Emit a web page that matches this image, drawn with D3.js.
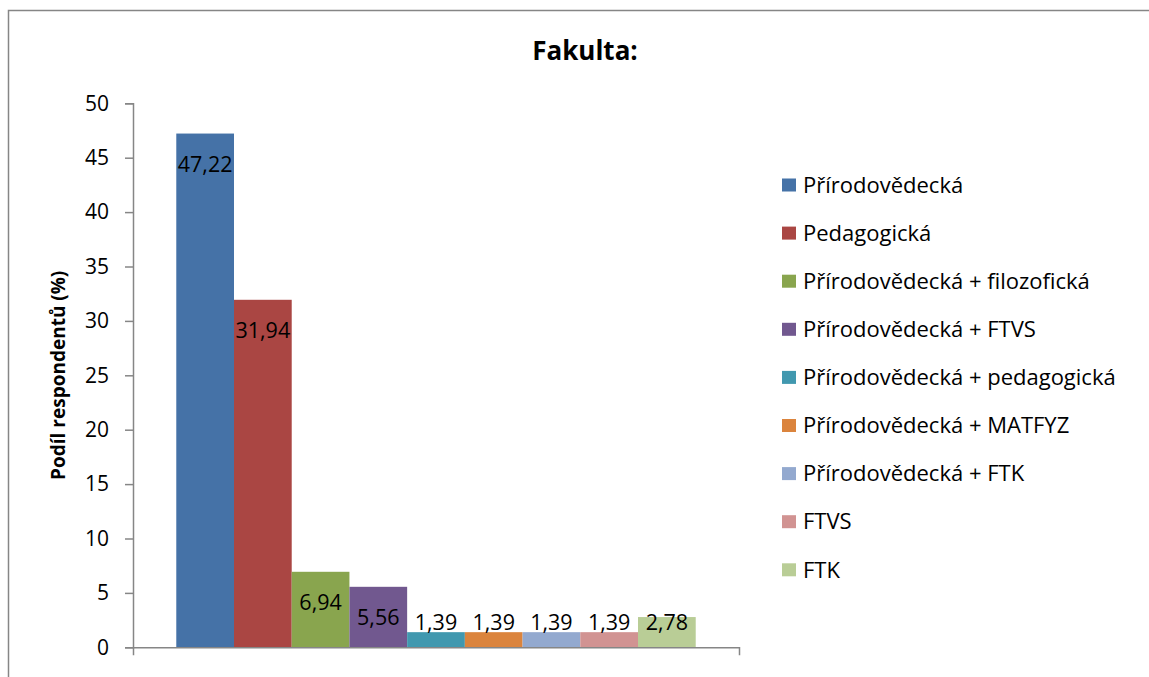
<!DOCTYPE html>
<html>
<head>
<meta charset="utf-8">
<script src="https://cdn.jsdelivr.net/npm/d3@7"></script>
<style>
  body { margin: 0; background: #fff; }
  text { font-family: "Open Sans", sans-serif; fill: #000; }
</style>
</head>
<body>
<svg id="chart" width="1149" height="677"></svg>
<script>
// chart data
const series = [
  "Přírodovědecká",
  "Pedagogická",
  "Přírodovědecká + filozofická",
  "Přírodovědecká + FTVS",
  "Přírodovědecká + pedagogická",
  "Přírodovědecká + MATFYZ",
  "Přírodovědecká + FTK",
  "FTVS",
  "FTK"
];
const values = [47.22, 31.94, 6.94, 5.56, 1.39, 1.39, 1.39, 1.39, 2.78];
const colors = ["#4572A7", "#AA4643", "#89A54E", "#71588F", "#4198AF",
                "#DB843D", "#93A9CF", "#D19392", "#B9CD96"];
const yTicks = [0, 5, 10, 15, 20, 25, 30, 35, 40, 45, 50];

const svg = d3.select("#chart");
const w = 1149, h = 677;
const axisColor = "#868686";

// outer frame (runs off the right and bottom edges)
svg.append("rect")
  .attr("x", 8.5).attr("y", 10.5)
  .attr("width", w + 10).attr("height", h + 10)
  .attr("fill", "none")
  .attr("stroke", axisColor)
  .attr("stroke-width", 1.5);

const plotLeft = 133, plotRight = 739, plotTop = 103.3, plotBottom = 647.3;

const y = d3.scaleLinear().domain([0, 50]).range([plotBottom, plotTop]);
const x = d3.scaleBand().domain(series).range([plotLeft, plotRight])
  .paddingInner(0).paddingOuter(0.75);
const color = d3.scaleOrdinal().domain(series).range(colors);

// title
svg.append("text")
  .text("Fakulta:")
  .attr("x", 585).attr("y", 59.5)
  .attr("text-anchor", "middle")
  .attr("font-size", "26px")
  .attr("font-weight", "bold");

// bars
svg.append("g")
  .selectAll("rect")
  .data(values)
  .join("rect")
  .attr("x", (d, i) => x(series[i]))
  .attr("y", d => y(d))
  .attr("width", x.bandwidth())
  .attr("height", d => y(0) - y(d))
  .attr("fill", (d, i) => color(series[i]));

// y axis
const yAxis = d3.axisLeft(y).tickValues(yTicks).tickSize(8).tickPadding(16)
  .tickFormat(d3.format("d"));
const gy = svg.append("g")
  .attr("transform", "translate(" + plotLeft + ",0)")
  .call(yAxis);
gy.select(".domain").attr("stroke", axisColor).attr("stroke-width", 1.5);
gy.selectAll(".tick line").attr("stroke", axisColor).attr("stroke-width", 1.5);
gy.selectAll(".tick text")
  .attr("font-family", "Open Sans, sans-serif")
  .attr("font-size", "21px")
  .attr("fill", "#000");

// x axis: a single category with no label, ticks only at the ends
const x0 = d3.scaleBand().domain(["Fakulta"]).range([plotLeft, plotRight]);
const gx = svg.append("g")
  .attr("transform", "translate(0," + plotBottom + ")")
  .call(d3.axisBottom(x0).tickSize(0).tickSizeOuter(8).tickFormat(""));
gx.select(".domain").attr("stroke", axisColor).attr("stroke-width", 1.5);

// y axis title
svg.append("text")
  .text("Podíl respondentů (%)")
  .attr("transform", "translate(65," + (plotTop + plotBottom) / 2 + ") rotate(-90)")
  .attr("text-anchor", "middle")
  .attr("font-size", "19px")
  .attr("font-weight", "bold");

// data labels, kept above the axis for the short bars
svg.append("g")
  .selectAll("text")
  .data(values)
  .join("text")
  .text(d => d3.format(".2f")(d).replace(".", ","))
  .attr("x", (d, i) => x(series[i]) + x.bandwidth() / 2)
  .attr("y", d => Math.min(y(d) + 31, 622))
  .attr("dy", "0.35em")
  .attr("text-anchor", "middle")
  .attr("font-size", "21.5px");

// legend
const legend = svg.append("g")
  .selectAll("g")
  .data(series)
  .join("g")
  .attr("transform", (d, i) => "translate(782," + (185 + i * 48.1) + ")");

legend.append("rect")
  .attr("x", 0).attr("y", -6.5)
  .attr("width", 14).attr("height", 13)
  .attr("fill", d => color(d));

legend.append("text")
  .text(d => d)
  .attr("x", 21)
  .attr("dy", "0.35em")
  .attr("font-size", "22px");
</script>
</body>
</html>
